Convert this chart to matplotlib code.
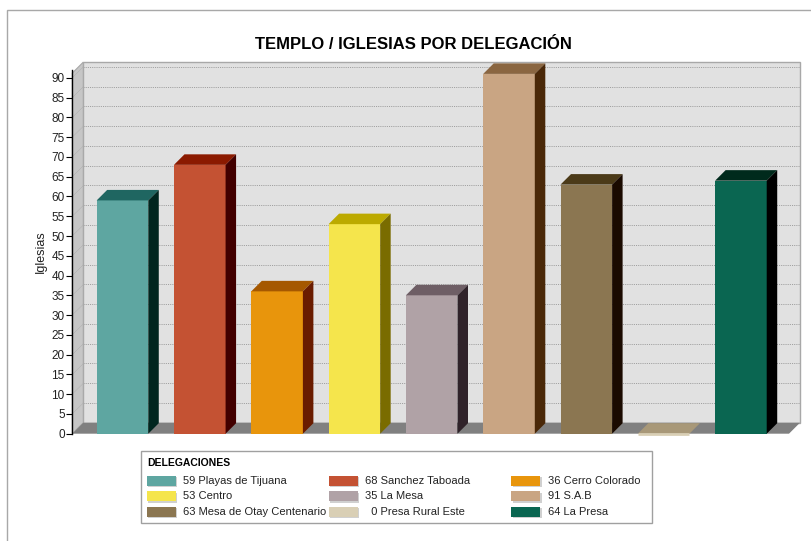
import matplotlib
matplotlib.use("Agg")
import matplotlib.pyplot as plt
from matplotlib.patches import Polygon, Rectangle
import numpy as np

plt.rcParams['font.family'] = ['Liberation Sans', 'DejaVu Sans']

# ---- data ----
categories = ["Playas de Tijuana", "Sanchez Taboada", "Cerro Colorado", "Centro",
              "La Mesa", "S.A.B", "Mesa de Otay Centenario", "Presa Rural Este", "La Presa"]
values = [59, 68, 36, 53, 35, 91, 63, 0, 64]
yticks = list(range(0, 95, 5))
title = "TEMPLO / IGLESIAS POR DELEGACIÓN"
ylabel = "Iglesias"
legend_title = "DELEGACIONES"

front_colors = ['#5ea6a1', '#c45233', '#e8950c', '#f5e54c', '#b0a2a6',
                '#c9a583', '#8b7651', '#d9cfb5', '#0a6651']
top_colors = ['#1f6661', '#8b1a00', '#a55800', '#bcaa00', '#6e5e65',
              '#8a6641', '#4b3a18', '#a89878', '#002a1c']
side_colors = ['#00261f', '#420000', '#6a1c00', '#7a6c00', '#30232a',
               '#4a2808', '#1a0a00', '#6e6048', '#000000']

W, H = 812, 541
fig = plt.figure(figsize=(W / 100, H / 100), dpi=100)

def fx(px):
    return px / W

def fy(py):
    return (H - py) / H

# front plane of the chart
left_px, right_px, bottom_px, top_px = 72.3, 789.0, 433.7, 73.1
ax = fig.add_axes([fx(left_px), fy(bottom_px), (right_px - left_px) / W, (bottom_px - top_px) / H])
x = np.arange(len(values))
xmin, xmax = -0.649, 8.622
ymin, ymax = 0, 91.2
ax.set_xlim(xmin, xmax)
ax.set_ylim(ymin, ymax)
ax.patch.set_visible(False)

# pixels per data unit
p0 = ax.transData.transform((0, 0))
p1 = ax.transData.transform((1, 1))
ppx, ppy = p1 - p0
wall_dx, wall_dy = 11 / ppx, 11 / ppy
bar_dx, bar_dy = 10.5 / ppx, 10.5 / ppy

# back wall
ax.add_patch(Rectangle((xmin + wall_dx, wall_dy), xmax - xmin, ymax, facecolor='#e1e1e1',
                       edgecolor='#a8a8a8', lw=1.0, zorder=0, clip_on=False))
for v in yticks[1:]:
    ax.plot([xmin + wall_dx, xmax + wall_dx], [v + wall_dy, v + wall_dy], color='#959595',
            lw=0.6, ls=(0, (1.3, 1.3)), zorder=1, clip_on=False)

# left wall
ax.add_patch(Polygon([(xmin, 0), (xmin, ymax), (xmin + wall_dx, ymax + wall_dy),
                      (xmin + wall_dx, wall_dy)], closed=True, facecolor='#c6c6c6',
                     edgecolor='#a8a8a8', lw=0.8, zorder=1, clip_on=False))
for v in yticks[1:]:
    ax.plot([xmin, xmin + wall_dx], [v, v + wall_dy], color='#a8a8a8', lw=0.5,
            ls=(0, (1, 1)), zorder=1.5, clip_on=False)

# floor
ax.add_patch(Polygon([(xmin, 0), (xmax, 0), (xmax + wall_dx, wall_dy), (xmin + wall_dx, wall_dy)],
                     closed=True, facecolor='#808080', edgecolor='none', zorder=1.8, clip_on=False))

# bars
bw = 0.6675
ax.bar(x, values, width=bw, color=front_colors, zorder=3, clip_on=False)
for xi, v, tc, sc, fc in zip(x, values, top_colors, side_colors, front_colors):
    x0, x1 = xi - bw / 2, xi + bw / 2
    ax.add_patch(Polygon([(x0, v), (x1, v), (x1 + bar_dx, v + bar_dy), (x0 + bar_dx, v + bar_dy)],
                         closed=True, facecolor=tc, edgecolor='none', zorder=3, clip_on=False))
    ax.add_patch(Polygon([(x1, 0), (x1 + bar_dx, bar_dy), (x1 + bar_dx, v + bar_dy), (x1, v)],
                         closed=True, facecolor=sc, edgecolor='none', zorder=3, clip_on=False))
    if v == 0:
        ax.plot([x0, x1], [0, 0], color=fc, lw=2, zorder=3.5, clip_on=False, solid_capstyle='butt')

# axis styling
for s in ['top', 'right', 'bottom']:
    ax.spines[s].set_visible(False)
ax.spines['left'].set_color('black')
ax.spines['left'].set_linewidth(1.0)
ax.spines['left'].set_bounds(0, 92)
ax.spines['left'].set_zorder(5)
ax.set_xticks([])
ax.set_yticks(yticks)
ax.set_yticklabels([str(t) for t in yticks])
ax.tick_params(axis='y', direction='out', length=4, width=0.8, pad=1.5, labelsize=8.5,
               labelcolor='#222222', color='black')

fig.text(fx(40.5), fy(252), ylabel, rotation=90, ha='center', va='center', fontsize=9,
         color='#222222')

# title
fig.text(fx(413.9), fy(49.2), title, ha='center', va='baseline', fontsize=12, fontweight='bold',
         color='black')

# outer border
fig.add_artist(Rectangle((fx(7), -0.1), 1.2, fy(10) + 0.1, transform=fig.transFigure,
                         fill=False, edgecolor='#a8a8a8', lw=1.0))

# legend
lx0, ly0, lx1, ly1 = 141, 451, 652, 523.3
fig.add_artist(Rectangle((fx(lx0), fy(ly1)), (lx1 - lx0) / W, (ly1 - ly0) / H,
                         transform=fig.transFigure, facecolor='white', edgecolor='#a0a0a0', lw=1.0))
fig.text(fx(147), fy(463.5), legend_title, ha='left', va='center', fontsize=7.5,
         fontweight='bold', color='black')
col_sw = [146.7, 329.0, 511.0]
row_y = [480.7, 496.3, 511.7]
for i, (name, v, fc) in enumerate(zip(categories, values, front_colors)):
    r, c = divmod(i, 3)
    sx, sy = col_sw[c], row_y[r]
    fig.add_artist(Rectangle((fx(sx + 1.5), fy(sy + 6.5)), 29 / W, 10 / H, transform=fig.transFigure,
                             facecolor='#d0d0d0', edgecolor='none'))
    fig.add_artist(Rectangle((fx(sx), fy(sy + 5)), 29 / W, 10 / H, transform=fig.transFigure,
                             facecolor=fc, edgecolor='none'))
    pad = '  ' * (2 - len(str(v)))
    fig.text(fx(sx + 36.5), fy(sy), f"{pad}{v} {name}", ha='left', va='center', fontsize=8,
             color='#222222')

fig.savefig("out.png", dpi=100)
